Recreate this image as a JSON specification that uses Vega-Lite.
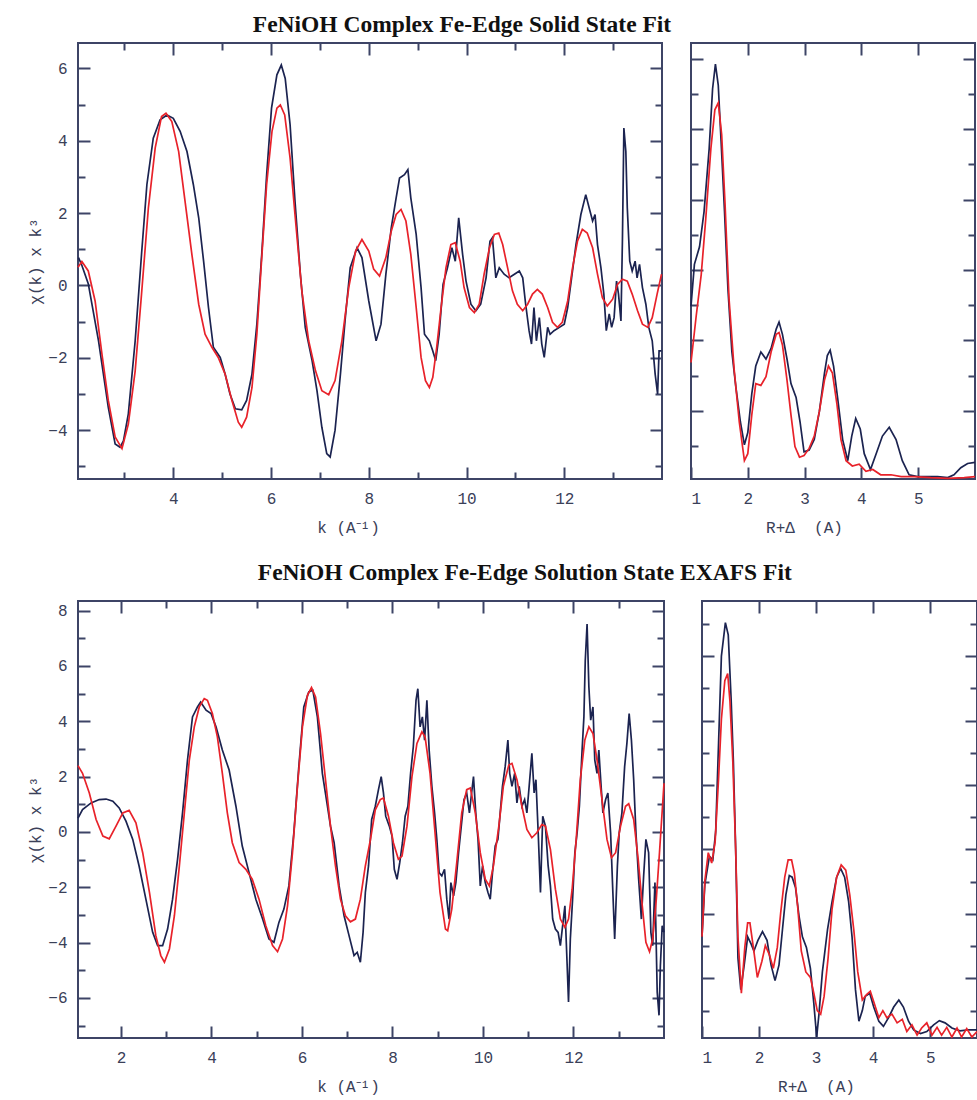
{
  "$schema": "https://vega.github.io/schema/vega-lite/v6.json",
  "background": "white",
  "padding": {"left": 26, "top": 12, "right": 0, "bottom": 0},
  "config": {
    "view": {"stroke": "#3d4466", "strokeWidth": 2},
    "axis": {"domain": false, "grid": false, "tickColor": "#3d4466", "tickWidth": 2, "labelFont": "Liberation Mono", "labelFontSize": 16, "labelColor": "#3a4058", "titleFont": "Liberation Mono", "titleFontSize": 16, "titleFontWeight": "normal", "titleColor": "#3a4058", "labelPadding": 23},
    "title": {"font": "Liberation Serif", "fontSize": 23.5, "fontWeight": "bold", "color": "#111111"}
  },
  "data": {"values": [
{"p":"ks","s":"d","x":2.06,"y":0.77},{"p":"ks","s":"d","x":2.13,"y":0.55},{"p":"ks","s":"d","x":2.26,"y":0.05},{"p":"ks","s":"d","x":2.47,"y":-1.53},{"p":"ks","s":"d","x":2.67,"y":-3.37},{"p":"ks","s":"d","x":2.81,"y":-4.38},{"p":"ks","s":"d","x":2.91,"y":-4.47},{"p":"ks","s":"d","x":2.98,"y":-4.3},{"p":"ks","s":"d","x":3.08,"y":-3.55},{"p":"ks","s":"d","x":3.22,"y":-1.53},{"p":"ks","s":"d","x":3.35,"y":0.86},{"p":"ks","s":"d","x":3.46,"y":2.79},{"p":"ks","s":"d","x":3.59,"y":4.07},{"p":"ks","s":"d","x":3.73,"y":4.58},{"p":"ks","s":"d","x":3.87,"y":4.71},{"p":"ks","s":"d","x":4.0,"y":4.62},{"p":"ks","s":"d","x":4.14,"y":4.26},{"p":"ks","s":"d","x":4.28,"y":3.7},{"p":"ks","s":"d","x":4.41,"y":2.79},{"p":"ks","s":"d","x":4.52,"y":1.87},{"p":"ks","s":"d","x":4.62,"y":0.67},{"p":"ks","s":"d","x":4.72,"y":-0.61},{"p":"ks","s":"d","x":4.82,"y":-1.71},{"p":"ks","s":"d","x":4.96,"y":-1.99},{"p":"ks","s":"d","x":5.06,"y":-2.45},{"p":"ks","s":"d","x":5.16,"y":-3.0},{"p":"ks","s":"d","x":5.27,"y":-3.41},{"p":"ks","s":"d","x":5.4,"y":-3.44},{"p":"ks","s":"d","x":5.5,"y":-3.18},{"p":"ks","s":"d","x":5.61,"y":-2.45},{"p":"ks","s":"d","x":5.71,"y":-1.07},{"p":"ks","s":"d","x":5.81,"y":0.86},{"p":"ks","s":"d","x":5.91,"y":3.06},{"p":"ks","s":"d","x":6.01,"y":4.9},{"p":"ks","s":"d","x":6.12,"y":5.82},{"p":"ks","s":"d","x":6.21,"y":6.09},{"p":"ks","s":"d","x":6.29,"y":5.72},{"p":"ks","s":"d","x":6.39,"y":4.44},{"p":"ks","s":"d","x":6.49,"y":2.33},{"p":"ks","s":"d","x":6.6,"y":0.31},{"p":"ks","s":"d","x":6.7,"y":-1.16},{"p":"ks","s":"d","x":6.84,"y":-2.08},{"p":"ks","s":"d","x":6.94,"y":-2.91},{"p":"ks","s":"d","x":7.04,"y":-3.92},{"p":"ks","s":"d","x":7.14,"y":-4.65},{"p":"ks","s":"d","x":7.21,"y":-4.74},{"p":"ks","s":"d","x":7.31,"y":-4.0},{"p":"ks","s":"d","x":7.42,"y":-2.45},{"p":"ks","s":"d","x":7.52,"y":-0.89},{"p":"ks","s":"d","x":7.62,"y":0.49},{"p":"ks","s":"d","x":7.76,"y":1.04},{"p":"ks","s":"d","x":7.86,"y":0.77},{"p":"ks","s":"d","x":8.0,"y":-0.43},{"p":"ks","s":"d","x":8.15,"y":-1.53},{"p":"ks","s":"d","x":8.25,"y":-1.07},{"p":"ks","s":"d","x":8.35,"y":0.31},{"p":"ks","s":"d","x":8.46,"y":1.59},{"p":"ks","s":"d","x":8.56,"y":2.42},{"p":"ks","s":"d","x":8.63,"y":2.97},{"p":"ks","s":"d","x":8.73,"y":3.06},{"p":"ks","s":"d","x":8.8,"y":3.2},{"p":"ks","s":"d","x":8.86,"y":2.42},{"p":"ks","s":"d","x":8.97,"y":1.41},{"p":"ks","s":"d","x":9.07,"y":-0.06},{"p":"ks","s":"d","x":9.14,"y":-1.35},{"p":"ks","s":"d","x":9.24,"y":-1.53},{"p":"ks","s":"d","x":9.31,"y":-1.81},{"p":"ks","s":"d","x":9.37,"y":-2.08},{"p":"ks","s":"d","x":9.44,"y":-1.35},{"p":"ks","s":"d","x":9.52,"y":0.03},{"p":"ks","s":"d","x":9.61,"y":0.49},{"p":"ks","s":"d","x":9.7,"y":1.04},{"p":"ks","s":"d","x":9.77,"y":0.67},{"p":"ks","s":"d","x":9.84,"y":1.87},{"p":"ks","s":"d","x":9.92,"y":0.86},{"p":"ks","s":"d","x":9.99,"y":0.12},{"p":"ks","s":"d","x":10.09,"y":-0.52},{"p":"ks","s":"d","x":10.19,"y":-0.7},{"p":"ks","s":"d","x":10.29,"y":-0.52},{"p":"ks","s":"d","x":10.4,"y":0.21},{"p":"ks","s":"d","x":10.48,"y":1.22},{"p":"ks","s":"d","x":10.53,"y":1.32},{"p":"ks","s":"d","x":10.6,"y":0.21},{"p":"ks","s":"d","x":10.67,"y":0.49},{"p":"ks","s":"d","x":10.77,"y":0.31},{"p":"ks","s":"d","x":10.87,"y":0.21},{"p":"ks","s":"d","x":10.98,"y":0.31},{"p":"ks","s":"d","x":11.08,"y":0.4},{"p":"ks","s":"d","x":11.15,"y":0.21},{"p":"ks","s":"d","x":11.21,"y":-0.52},{"p":"ks","s":"d","x":11.28,"y":-1.25},{"p":"ks","s":"d","x":11.33,"y":-1.62},{"p":"ks","s":"d","x":11.38,"y":-0.61},{"p":"ks","s":"d","x":11.43,"y":-1.53},{"p":"ks","s":"d","x":11.49,"y":-0.89},{"p":"ks","s":"d","x":11.54,"y":-1.62},{"p":"ks","s":"d","x":11.59,"y":-1.99},{"p":"ks","s":"d","x":11.66,"y":-1.16},{"p":"ks","s":"d","x":11.71,"y":-1.35},{"p":"ks","s":"d","x":11.79,"y":-1.25},{"p":"ks","s":"d","x":11.9,"y":-1.16},{"p":"ks","s":"d","x":12.0,"y":-1.07},{"p":"ks","s":"d","x":12.07,"y":-0.61},{"p":"ks","s":"d","x":12.15,"y":0.21},{"p":"ks","s":"d","x":12.24,"y":1.13},{"p":"ks","s":"d","x":12.34,"y":1.96},{"p":"ks","s":"d","x":12.44,"y":2.51},{"p":"ks","s":"d","x":12.51,"y":2.14},{"p":"ks","s":"d","x":12.58,"y":1.78},{"p":"ks","s":"d","x":12.63,"y":1.96},{"p":"ks","s":"d","x":12.68,"y":1.13},{"p":"ks","s":"d","x":12.75,"y":0.49},{"p":"ks","s":"d","x":12.81,"y":-0.24},{"p":"ks","s":"d","x":12.86,"y":-1.25},{"p":"ks","s":"d","x":12.92,"y":-0.79},{"p":"ks","s":"d","x":12.97,"y":-1.16},{"p":"ks","s":"d","x":13.02,"y":-0.89},{"p":"ks","s":"d","x":13.07,"y":0.12},{"p":"ks","s":"d","x":13.11,"y":-0.24},{"p":"ks","s":"d","x":13.16,"y":-0.98},{"p":"ks","s":"d","x":13.19,"y":1.22},{"p":"ks","s":"d","x":13.22,"y":4.35},{"p":"ks","s":"d","x":13.26,"y":3.7},{"p":"ks","s":"d","x":13.29,"y":2.14},{"p":"ks","s":"d","x":13.34,"y":0.67},{"p":"ks","s":"d","x":13.39,"y":0.4},{"p":"ks","s":"d","x":13.45,"y":0.67},{"p":"ks","s":"d","x":13.49,"y":0.21},{"p":"ks","s":"d","x":13.54,"y":0.58},{"p":"ks","s":"d","x":13.6,"y":-0.06},{"p":"ks","s":"d","x":13.67,"y":-0.52},{"p":"ks","s":"d","x":13.73,"y":-1.16},{"p":"ks","s":"d","x":13.8,"y":-1.53},{"p":"ks","s":"d","x":13.86,"y":-2.45},{"p":"ks","s":"d","x":13.91,"y":-3.0},{"p":"ks","s":"d","x":13.94,"y":-1.81},{"p":"ks","s":"d","x":13.99,"y":-1.81},
{"p":"ks","s":"f","x":2.05,"y":0.5},{"p":"ks","s":"f","x":2.13,"y":0.66},{"p":"ks","s":"f","x":2.26,"y":0.4},{"p":"ks","s":"f","x":2.4,"y":-0.43},{"p":"ks","s":"f","x":2.54,"y":-1.9},{"p":"ks","s":"f","x":2.67,"y":-3.18},{"p":"ks","s":"f","x":2.81,"y":-4.19},{"p":"ks","s":"f","x":2.95,"y":-4.51},{"p":"ks","s":"f","x":3.08,"y":-3.83},{"p":"ks","s":"f","x":3.22,"y":-2.36},{"p":"ks","s":"f","x":3.35,"y":-0.24},{"p":"ks","s":"f","x":3.49,"y":2.14},{"p":"ks","s":"f","x":3.63,"y":3.8},{"p":"ks","s":"f","x":3.76,"y":4.67},{"p":"ks","s":"f","x":3.85,"y":4.76},{"p":"ks","s":"f","x":3.97,"y":4.53},{"p":"ks","s":"f","x":4.11,"y":3.7},{"p":"ks","s":"f","x":4.24,"y":2.33},{"p":"ks","s":"f","x":4.38,"y":0.86},{"p":"ks","s":"f","x":4.52,"y":-0.52},{"p":"ks","s":"f","x":4.65,"y":-1.35},{"p":"ks","s":"f","x":4.79,"y":-1.71},{"p":"ks","s":"f","x":4.92,"y":-1.99},{"p":"ks","s":"f","x":5.06,"y":-2.45},{"p":"ks","s":"f","x":5.2,"y":-3.18},{"p":"ks","s":"f","x":5.33,"y":-3.78},{"p":"ks","s":"f","x":5.4,"y":-3.92},{"p":"ks","s":"f","x":5.5,"y":-3.64},{"p":"ks","s":"f","x":5.61,"y":-2.82},{"p":"ks","s":"f","x":5.71,"y":-1.35},{"p":"ks","s":"f","x":5.81,"y":0.77},{"p":"ks","s":"f","x":5.91,"y":2.79},{"p":"ks","s":"f","x":6.02,"y":4.26},{"p":"ks","s":"f","x":6.12,"y":4.9},{"p":"ks","s":"f","x":6.19,"y":4.99},{"p":"ks","s":"f","x":6.28,"y":4.71},{"p":"ks","s":"f","x":6.39,"y":3.52},{"p":"ks","s":"f","x":6.49,"y":1.96},{"p":"ks","s":"f","x":6.63,"y":-0.15},{"p":"ks","s":"f","x":6.77,"y":-1.53},{"p":"ks","s":"f","x":6.91,"y":-2.36},{"p":"ks","s":"f","x":7.04,"y":-2.91},{"p":"ks","s":"f","x":7.18,"y":-3.02},{"p":"ks","s":"f","x":7.31,"y":-2.63},{"p":"ks","s":"f","x":7.45,"y":-1.53},{"p":"ks","s":"f","x":7.59,"y":-0.06},{"p":"ks","s":"f","x":7.73,"y":0.95},{"p":"ks","s":"f","x":7.86,"y":1.27},{"p":"ks","s":"f","x":8.0,"y":0.95},{"p":"ks","s":"f","x":8.1,"y":0.45},{"p":"ks","s":"f","x":8.22,"y":0.26},{"p":"ks","s":"f","x":8.35,"y":0.77},{"p":"ks","s":"f","x":8.46,"y":1.5},{"p":"ks","s":"f","x":8.56,"y":1.96},{"p":"ks","s":"f","x":8.66,"y":2.1},{"p":"ks","s":"f","x":8.76,"y":1.78},{"p":"ks","s":"f","x":8.86,"y":0.86},{"p":"ks","s":"f","x":8.97,"y":-0.61},{"p":"ks","s":"f","x":9.07,"y":-1.99},{"p":"ks","s":"f","x":9.16,"y":-2.63},{"p":"ks","s":"f","x":9.24,"y":-2.82},{"p":"ks","s":"f","x":9.31,"y":-2.54},{"p":"ks","s":"f","x":9.39,"y":-1.71},{"p":"ks","s":"f","x":9.48,"y":-0.61},{"p":"ks","s":"f","x":9.58,"y":0.49},{"p":"ks","s":"f","x":9.68,"y":1.13},{"p":"ks","s":"f","x":9.77,"y":1.18},{"p":"ks","s":"f","x":9.87,"y":0.67},{"p":"ks","s":"f","x":9.95,"y":-0.06},{"p":"ks","s":"f","x":10.06,"y":-0.61},{"p":"ks","s":"f","x":10.16,"y":-0.75},{"p":"ks","s":"f","x":10.26,"y":-0.52},{"p":"ks","s":"f","x":10.36,"y":0.31},{"p":"ks","s":"f","x":10.47,"y":1.04},{"p":"ks","s":"f","x":10.57,"y":1.41},{"p":"ks","s":"f","x":10.66,"y":1.45},{"p":"ks","s":"f","x":10.74,"y":1.13},{"p":"ks","s":"f","x":10.84,"y":0.49},{"p":"ks","s":"f","x":10.94,"y":-0.15},{"p":"ks","s":"f","x":11.04,"y":-0.52},{"p":"ks","s":"f","x":11.15,"y":-0.7},{"p":"ks","s":"f","x":11.25,"y":-0.52},{"p":"ks","s":"f","x":11.35,"y":-0.24},{"p":"ks","s":"f","x":11.45,"y":-0.11},{"p":"ks","s":"f","x":11.55,"y":-0.24},{"p":"ks","s":"f","x":11.66,"y":-0.61},{"p":"ks","s":"f","x":11.76,"y":-1.02},{"p":"ks","s":"f","x":11.86,"y":-1.16},{"p":"ks","s":"f","x":11.96,"y":-1.02},{"p":"ks","s":"f","x":12.07,"y":-0.43},{"p":"ks","s":"f","x":12.17,"y":0.49},{"p":"ks","s":"f","x":12.27,"y":1.22},{"p":"ks","s":"f","x":12.37,"y":1.55},{"p":"ks","s":"f","x":12.47,"y":1.45},{"p":"ks","s":"f","x":12.58,"y":1.04},{"p":"ks","s":"f","x":12.68,"y":0.31},{"p":"ks","s":"f","x":12.78,"y":-0.34},{"p":"ks","s":"f","x":12.88,"y":-0.57},{"p":"ks","s":"f","x":12.99,"y":-0.38},{"p":"ks","s":"f","x":13.09,"y":0.03},{"p":"ks","s":"f","x":13.19,"y":0.17},{"p":"ks","s":"f","x":13.29,"y":0.12},{"p":"ks","s":"f","x":13.39,"y":-0.24},{"p":"ks","s":"f","x":13.5,"y":-0.7},{"p":"ks","s":"f","x":13.6,"y":-1.07},{"p":"ks","s":"f","x":13.71,"y":-1.16},{"p":"ks","s":"f","x":13.8,"y":-0.89},{"p":"ks","s":"f","x":13.9,"y":-0.24},{"p":"ks","s":"f","x":13.99,"y":0.31},
{"p":"rs","s":"d","x":1.0,"y":4.97},{"p":"rs","s":"d","x":1.06,"y":6.16},{"p":"rs","s":"d","x":1.15,"y":6.66},{"p":"rs","s":"d","x":1.23,"y":7.66},{"p":"rs","s":"d","x":1.32,"y":9.45},{"p":"rs","s":"d","x":1.38,"y":11.15},{"p":"rs","s":"d","x":1.43,"y":11.85},{"p":"rs","s":"d","x":1.48,"y":11.25},{"p":"rs","s":"d","x":1.53,"y":9.65},{"p":"rs","s":"d","x":1.59,"y":7.66},{"p":"rs","s":"d","x":1.65,"y":5.47},{"p":"rs","s":"d","x":1.72,"y":3.67},{"p":"rs","s":"d","x":1.79,"y":2.67},{"p":"rs","s":"d","x":1.87,"y":1.68},{"p":"rs","s":"d","x":1.94,"y":1.03},{"p":"rs","s":"d","x":2.0,"y":1.38},{"p":"rs","s":"d","x":2.07,"y":2.48},{"p":"rs","s":"d","x":2.14,"y":3.27},{"p":"rs","s":"d","x":2.23,"y":3.67},{"p":"rs","s":"d","x":2.32,"y":3.47},{"p":"rs","s":"d","x":2.41,"y":3.77},{"p":"rs","s":"d","x":2.5,"y":4.32},{"p":"rs","s":"d","x":2.55,"y":4.52},{"p":"rs","s":"d","x":2.61,"y":4.17},{"p":"rs","s":"d","x":2.69,"y":3.47},{"p":"rs","s":"d","x":2.76,"y":2.77},{"p":"rs","s":"d","x":2.85,"y":2.38},{"p":"rs","s":"d","x":2.92,"y":1.68},{"p":"rs","s":"d","x":2.99,"y":0.83},{"p":"rs","s":"d","x":3.08,"y":0.88},{"p":"rs","s":"d","x":3.17,"y":1.18},{"p":"rs","s":"d","x":3.26,"y":1.98},{"p":"rs","s":"d","x":3.35,"y":3.07},{"p":"rs","s":"d","x":3.4,"y":3.57},{"p":"rs","s":"d","x":3.45,"y":3.72},{"p":"rs","s":"d","x":3.51,"y":3.27},{"p":"rs","s":"d","x":3.58,"y":2.38},{"p":"rs","s":"d","x":3.67,"y":1.18},{"p":"rs","s":"d","x":3.76,"y":0.58},{"p":"rs","s":"d","x":3.83,"y":1.28},{"p":"rs","s":"d","x":3.9,"y":1.78},{"p":"rs","s":"d","x":3.98,"y":1.48},{"p":"rs","s":"d","x":4.05,"y":0.78},{"p":"rs","s":"d","x":4.16,"y":0.33},{"p":"rs","s":"d","x":4.26,"y":0.78},{"p":"rs","s":"d","x":4.37,"y":1.28},{"p":"rs","s":"d","x":4.49,"y":1.53},{"p":"rs","s":"d","x":4.61,"y":1.18},{"p":"rs","s":"d","x":4.72,"y":0.58},{"p":"rs","s":"d","x":4.84,"y":0.18},{"p":"rs","s":"d","x":4.99,"y":0.13},{"p":"rs","s":"d","x":5.16,"y":0.13},{"p":"rs","s":"d","x":5.34,"y":0.13},{"p":"rs","s":"d","x":5.52,"y":0.1},{"p":"rs","s":"d","x":5.63,"y":0.18},{"p":"rs","s":"d","x":5.75,"y":0.38},{"p":"rs","s":"d","x":5.87,"y":0.5},{"p":"rs","s":"d","x":6.0,"y":0.53},
{"p":"rs","s":"f","x":1.0,"y":3.37},{"p":"rs","s":"f","x":1.09,"y":4.67},{"p":"rs","s":"f","x":1.18,"y":5.87},{"p":"rs","s":"f","x":1.26,"y":7.46},{"p":"rs","s":"f","x":1.35,"y":9.45},{"p":"rs","s":"f","x":1.42,"y":10.55},{"p":"rs","s":"f","x":1.48,"y":10.75},{"p":"rs","s":"f","x":1.54,"y":9.85},{"p":"rs","s":"f","x":1.6,"y":7.86},{"p":"rs","s":"f","x":1.67,"y":5.17},{"p":"rs","s":"f","x":1.76,"y":3.17},{"p":"rs","s":"f","x":1.85,"y":1.68},{"p":"rs","s":"f","x":1.94,"y":0.58},{"p":"rs","s":"f","x":2.0,"y":0.78},{"p":"rs","s":"f","x":2.07,"y":1.88},{"p":"rs","s":"f","x":2.14,"y":2.77},{"p":"rs","s":"f","x":2.23,"y":2.72},{"p":"rs","s":"f","x":2.32,"y":2.97},{"p":"rs","s":"f","x":2.41,"y":3.67},{"p":"rs","s":"f","x":2.5,"y":4.17},{"p":"rs","s":"f","x":2.55,"y":4.22},{"p":"rs","s":"f","x":2.61,"y":3.87},{"p":"rs","s":"f","x":2.69,"y":2.87},{"p":"rs","s":"f","x":2.76,"y":1.88},{"p":"rs","s":"f","x":2.83,"y":0.98},{"p":"rs","s":"f","x":2.91,"y":0.68},{"p":"rs","s":"f","x":2.99,"y":0.73},{"p":"rs","s":"f","x":3.08,"y":0.93},{"p":"rs","s":"f","x":3.17,"y":1.28},{"p":"rs","s":"f","x":3.26,"y":1.98},{"p":"rs","s":"f","x":3.35,"y":2.87},{"p":"rs","s":"f","x":3.42,"y":3.27},{"p":"rs","s":"f","x":3.49,"y":3.07},{"p":"rs","s":"f","x":3.57,"y":2.18},{"p":"rs","s":"f","x":3.64,"y":1.18},{"p":"rs","s":"f","x":3.73,"y":0.58},{"p":"rs","s":"f","x":3.84,"y":0.43},{"p":"rs","s":"f","x":3.96,"y":0.48},{"p":"rs","s":"f","x":4.08,"y":0.28},{"p":"rs","s":"f","x":4.2,"y":0.33},{"p":"rs","s":"f","x":4.34,"y":0.18},{"p":"rs","s":"f","x":4.52,"y":0.18},{"p":"rs","s":"f","x":4.7,"y":0.13},{"p":"rs","s":"f","x":4.93,"y":0.13},{"p":"rs","s":"f","x":5.22,"y":0.1},{"p":"rs","s":"f","x":5.52,"y":0.08},{"p":"rs","s":"f","x":5.81,"y":0.1},{"p":"rs","s":"f","x":6.0,"y":0.13},
{"p":"kl","s":"d","x":1.05,"y":0.5},{"p":"kl","s":"d","x":1.15,"y":0.81},{"p":"kl","s":"d","x":1.34,"y":1.05},{"p":"kl","s":"d","x":1.52,"y":1.17},{"p":"kl","s":"d","x":1.67,"y":1.19},{"p":"kl","s":"d","x":1.82,"y":1.11},{"p":"kl","s":"d","x":1.96,"y":0.87},{"p":"kl","s":"d","x":2.11,"y":0.39},{"p":"kl","s":"d","x":2.26,"y":-0.27},{"p":"kl","s":"d","x":2.4,"y":-1.23},{"p":"kl","s":"d","x":2.55,"y":-2.43},{"p":"kl","s":"d","x":2.7,"y":-3.63},{"p":"kl","s":"d","x":2.81,"y":-4.11},{"p":"kl","s":"d","x":2.92,"y":-4.11},{"p":"kl","s":"d","x":3.03,"y":-3.51},{"p":"kl","s":"d","x":3.14,"y":-2.43},{"p":"kl","s":"d","x":3.25,"y":-0.99},{"p":"kl","s":"d","x":3.36,"y":0.69},{"p":"kl","s":"d","x":3.47,"y":2.6},{"p":"kl","s":"d","x":3.58,"y":4.16},{"p":"kl","s":"d","x":3.69,"y":4.52},{"p":"kl","s":"d","x":3.76,"y":4.7},{"p":"kl","s":"d","x":3.88,"y":4.4},{"p":"kl","s":"d","x":3.99,"y":4.28},{"p":"kl","s":"d","x":4.1,"y":3.8},{"p":"kl","s":"d","x":4.24,"y":2.96},{"p":"kl","s":"d","x":4.39,"y":2.24},{"p":"kl","s":"d","x":4.54,"y":0.93},{"p":"kl","s":"d","x":4.68,"y":-0.51},{"p":"kl","s":"d","x":4.83,"y":-1.47},{"p":"kl","s":"d","x":4.98,"y":-2.43},{"p":"kl","s":"d","x":5.13,"y":-3.15},{"p":"kl","s":"d","x":5.27,"y":-3.87},{"p":"kl","s":"d","x":5.38,"y":-3.99},{"p":"kl","s":"d","x":5.49,"y":-3.27},{"p":"kl","s":"d","x":5.6,"y":-2.79},{"p":"kl","s":"d","x":5.71,"y":-1.95},{"p":"kl","s":"d","x":5.82,"y":-0.03},{"p":"kl","s":"d","x":5.93,"y":2.36},{"p":"kl","s":"d","x":6.04,"y":4.52},{"p":"kl","s":"d","x":6.15,"y":5.06},{"p":"kl","s":"d","x":6.24,"y":5.12},{"p":"kl","s":"d","x":6.34,"y":4.16},{"p":"kl","s":"d","x":6.45,"y":2.12},{"p":"kl","s":"d","x":6.54,"y":1.17},{"p":"kl","s":"d","x":6.63,"y":0.21},{"p":"kl","s":"d","x":6.71,"y":-0.39},{"p":"kl","s":"d","x":6.82,"y":-1.95},{"p":"kl","s":"d","x":6.93,"y":-3.03},{"p":"kl","s":"d","x":7.04,"y":-3.75},{"p":"kl","s":"d","x":7.15,"y":-4.47},{"p":"kl","s":"d","x":7.22,"y":-4.35},{"p":"kl","s":"d","x":7.29,"y":-4.71},{"p":"kl","s":"d","x":7.35,"y":-3.63},{"p":"kl","s":"d","x":7.4,"y":-2.19},{"p":"kl","s":"d","x":7.47,"y":-1.23},{"p":"kl","s":"d","x":7.54,"y":0.45},{"p":"kl","s":"d","x":7.62,"y":0.93},{"p":"kl","s":"d","x":7.69,"y":1.53},{"p":"kl","s":"d","x":7.75,"y":2.0},{"p":"kl","s":"d","x":7.8,"y":1.41},{"p":"kl","s":"d","x":7.85,"y":0.57},{"p":"kl","s":"d","x":7.93,"y":0.21},{"p":"kl","s":"d","x":7.99,"y":-0.15},{"p":"kl","s":"d","x":8.04,"y":-1.35},{"p":"kl","s":"d","x":8.1,"y":-1.71},{"p":"kl","s":"d","x":8.16,"y":-1.11},{"p":"kl","s":"d","x":8.22,"y":-0.39},{"p":"kl","s":"d","x":8.28,"y":0.57},{"p":"kl","s":"d","x":8.34,"y":0.93},{"p":"kl","s":"d","x":8.4,"y":2.12},{"p":"kl","s":"d","x":8.46,"y":3.08},{"p":"kl","s":"d","x":8.52,"y":4.76},{"p":"kl","s":"d","x":8.56,"y":5.18},{"p":"kl","s":"d","x":8.61,"y":3.8},{"p":"kl","s":"d","x":8.66,"y":4.16},{"p":"kl","s":"d","x":8.71,"y":3.32},{"p":"kl","s":"d","x":8.76,"y":4.76},{"p":"kl","s":"d","x":8.81,"y":2.96},{"p":"kl","s":"d","x":8.87,"y":1.65},{"p":"kl","s":"d","x":8.93,"y":0.69},{"p":"kl","s":"d","x":8.98,"y":-0.27},{"p":"kl","s":"d","x":9.03,"y":-1.47},{"p":"kl","s":"d","x":9.09,"y":-1.59},{"p":"kl","s":"d","x":9.15,"y":-1.35},{"p":"kl","s":"d","x":9.2,"y":-2.43},{"p":"kl","s":"d","x":9.25,"y":-3.15},{"p":"kl","s":"d","x":9.29,"y":-1.83},{"p":"kl","s":"d","x":9.35,"y":-2.31},{"p":"kl","s":"d","x":9.4,"y":-1.83},{"p":"kl","s":"d","x":9.46,"y":-0.75},{"p":"kl","s":"d","x":9.52,"y":0.21},{"p":"kl","s":"d","x":9.58,"y":1.17},{"p":"kl","s":"d","x":9.64,"y":1.41},{"p":"kl","s":"d","x":9.7,"y":0.69},{"p":"kl","s":"d","x":9.74,"y":1.29},{"p":"kl","s":"d","x":9.79,"y":2.0},{"p":"kl","s":"d","x":9.84,"y":0.69},{"p":"kl","s":"d","x":9.89,"y":-0.27},{"p":"kl","s":"d","x":9.94,"y":-1.95},{"p":"kl","s":"d","x":9.99,"y":-1.23},{"p":"kl","s":"d","x":10.05,"y":-1.83},{"p":"kl","s":"d","x":10.11,"y":-2.19},{"p":"kl","s":"d","x":10.16,"y":-2.43},{"p":"kl","s":"d","x":10.21,"y":-1.47},{"p":"kl","s":"d","x":10.27,"y":-0.51},{"p":"kl","s":"d","x":10.33,"y":-0.27},{"p":"kl","s":"d","x":10.38,"y":0.69},{"p":"kl","s":"d","x":10.43,"y":1.65},{"p":"kl","s":"d","x":10.49,"y":2.36},{"p":"kl","s":"d","x":10.55,"y":3.32},{"p":"kl","s":"d","x":10.59,"y":2.12},{"p":"kl","s":"d","x":10.64,"y":1.65},{"p":"kl","s":"d","x":10.7,"y":2.12},{"p":"kl","s":"d","x":10.75,"y":1.05},{"p":"kl","s":"d","x":10.8,"y":1.65},{"p":"kl","s":"d","x":10.86,"y":0.93},{"p":"kl","s":"d","x":10.92,"y":1.17},{"p":"kl","s":"d","x":10.97,"y":0.69},{"p":"kl","s":"d","x":11.02,"y":1.65},{"p":"kl","s":"d","x":11.08,"y":2.84},{"p":"kl","s":"d","x":11.13,"y":1.41},{"p":"kl","s":"d","x":11.17,"y":1.89},{"p":"kl","s":"d","x":11.22,"y":-0.03},{"p":"kl","s":"d","x":11.27,"y":-2.19},{"p":"kl","s":"d","x":11.32,"y":0.57},{"p":"kl","s":"d","x":11.38,"y":0.21},{"p":"kl","s":"d","x":11.44,"y":-1.23},{"p":"kl","s":"d","x":11.49,"y":-1.95},{"p":"kl","s":"d","x":11.54,"y":-3.15},{"p":"kl","s":"d","x":11.6,"y":-3.51},{"p":"kl","s":"d","x":11.66,"y":-3.63},{"p":"kl","s":"d","x":11.71,"y":-4.11},{"p":"kl","s":"d","x":11.76,"y":-3.39},{"p":"kl","s":"d","x":11.81,"y":-2.67},{"p":"kl","s":"d","x":11.86,"y":-4.83},{"p":"kl","s":"d","x":11.89,"y":-6.15},{"p":"kl","s":"d","x":11.93,"y":-3.87},{"p":"kl","s":"d","x":11.98,"y":-2.43},{"p":"kl","s":"d","x":12.03,"y":-0.75},{"p":"kl","s":"d","x":12.08,"y":-0.03},{"p":"kl","s":"d","x":12.13,"y":0.93},{"p":"kl","s":"d","x":12.19,"y":2.96},{"p":"kl","s":"d","x":12.23,"y":4.16},{"p":"kl","s":"d","x":12.26,"y":6.2},{"p":"kl","s":"d","x":12.3,"y":7.52},{"p":"kl","s":"d","x":12.34,"y":5.24},{"p":"kl","s":"d","x":12.38,"y":4.04},{"p":"kl","s":"d","x":12.43,"y":4.52},{"p":"kl","s":"d","x":12.47,"y":2.6},{"p":"kl","s":"d","x":12.52,"y":2.12},{"p":"kl","s":"d","x":12.56,"y":2.96},{"p":"kl","s":"d","x":12.61,"y":1.65},{"p":"kl","s":"d","x":12.65,"y":0.69},{"p":"kl","s":"d","x":12.71,"y":1.17},{"p":"kl","s":"d","x":12.76,"y":1.41},{"p":"kl","s":"d","x":12.82,"y":-0.03},{"p":"kl","s":"d","x":12.87,"y":-2.19},{"p":"kl","s":"d","x":12.91,"y":-3.87},{"p":"kl","s":"d","x":12.97,"y":-1.23},{"p":"kl","s":"d","x":13.01,"y":-0.03},{"p":"kl","s":"d","x":13.07,"y":0.69},{"p":"kl","s":"d","x":13.13,"y":2.36},{"p":"kl","s":"d","x":13.18,"y":3.2},{"p":"kl","s":"d","x":13.23,"y":4.28},{"p":"kl","s":"d","x":13.28,"y":3.32},{"p":"kl","s":"d","x":13.33,"y":1.89},{"p":"kl","s":"d","x":13.38,"y":-0.03},{"p":"kl","s":"d","x":13.44,"y":-1.71},{"p":"kl","s":"d","x":13.5,"y":-3.15},{"p":"kl","s":"d","x":13.55,"y":-1.59},{"p":"kl","s":"d","x":13.6,"y":-0.27},{"p":"kl","s":"d","x":13.66,"y":-0.75},{"p":"kl","s":"d","x":13.71,"y":-3.63},{"p":"kl","s":"d","x":13.75,"y":-4.11},{"p":"kl","s":"d","x":13.8,"y":-1.83},{"p":"kl","s":"d","x":13.85,"y":-5.79},{"p":"kl","s":"d","x":13.89,"y":-6.63},{"p":"kl","s":"d","x":13.92,"y":-4.83},{"p":"kl","s":"d","x":13.96,"y":-3.39},{"p":"kl","s":"d","x":14.0,"y":-3.63},
{"p":"kl","s":"f","x":1.05,"y":2.4},{"p":"kl","s":"f","x":1.15,"y":2.12},{"p":"kl","s":"f","x":1.3,"y":1.41},{"p":"kl","s":"f","x":1.45,"y":0.45},{"p":"kl","s":"f","x":1.6,"y":-0.15},{"p":"kl","s":"f","x":1.74,"y":-0.25},{"p":"kl","s":"f","x":1.89,"y":0.21},{"p":"kl","s":"f","x":2.04,"y":0.69},{"p":"kl","s":"f","x":2.18,"y":0.78},{"p":"kl","s":"f","x":2.33,"y":0.33},{"p":"kl","s":"f","x":2.48,"y":-0.75},{"p":"kl","s":"f","x":2.63,"y":-2.19},{"p":"kl","s":"f","x":2.77,"y":-3.75},{"p":"kl","s":"f","x":2.88,"y":-4.47},{"p":"kl","s":"f","x":2.96,"y":-4.71},{"p":"kl","s":"f","x":3.07,"y":-4.23},{"p":"kl","s":"f","x":3.18,"y":-3.03},{"p":"kl","s":"f","x":3.29,"y":-1.23},{"p":"kl","s":"f","x":3.4,"y":0.69},{"p":"kl","s":"f","x":3.51,"y":2.6},{"p":"kl","s":"f","x":3.62,"y":3.8},{"p":"kl","s":"f","x":3.73,"y":4.52},{"p":"kl","s":"f","x":3.84,"y":4.82},{"p":"kl","s":"f","x":3.91,"y":4.76},{"p":"kl","s":"f","x":4.02,"y":4.28},{"p":"kl","s":"f","x":4.13,"y":3.44},{"p":"kl","s":"f","x":4.24,"y":2.12},{"p":"kl","s":"f","x":4.35,"y":0.69},{"p":"kl","s":"f","x":4.46,"y":-0.39},{"p":"kl","s":"f","x":4.61,"y":-1.11},{"p":"kl","s":"f","x":4.76,"y":-1.35},{"p":"kl","s":"f","x":4.9,"y":-1.71},{"p":"kl","s":"f","x":5.05,"y":-2.43},{"p":"kl","s":"f","x":5.2,"y":-3.39},{"p":"kl","s":"f","x":5.35,"y":-4.11},{"p":"kl","s":"f","x":5.46,"y":-4.33},{"p":"kl","s":"f","x":5.57,"y":-3.87},{"p":"kl","s":"f","x":5.68,"y":-2.67},{"p":"kl","s":"f","x":5.79,"y":-0.75},{"p":"kl","s":"f","x":5.9,"y":1.65},{"p":"kl","s":"f","x":6.01,"y":3.8},{"p":"kl","s":"f","x":6.12,"y":4.94},{"p":"kl","s":"f","x":6.21,"y":5.22},{"p":"kl","s":"f","x":6.3,"y":4.88},{"p":"kl","s":"f","x":6.41,"y":3.56},{"p":"kl","s":"f","x":6.52,"y":1.88},{"p":"kl","s":"f","x":6.63,"y":0.21},{"p":"kl","s":"f","x":6.74,"y":-1.23},{"p":"kl","s":"f","x":6.85,"y":-2.43},{"p":"kl","s":"f","x":6.96,"y":-3.03},{"p":"kl","s":"f","x":7.07,"y":-3.25},{"p":"kl","s":"f","x":7.18,"y":-3.15},{"p":"kl","s":"f","x":7.29,"y":-2.43},{"p":"kl","s":"f","x":7.4,"y":-1.23},{"p":"kl","s":"f","x":7.51,"y":-0.3},{"p":"kl","s":"f","x":7.62,"y":0.8},{"p":"kl","s":"f","x":7.73,"y":1.17},{"p":"kl","s":"f","x":7.8,"y":1.23},{"p":"kl","s":"f","x":7.91,"y":0.57},{"p":"kl","s":"f","x":8.02,"y":-0.39},{"p":"kl","s":"f","x":8.13,"y":-0.99},{"p":"kl","s":"f","x":8.21,"y":-0.87},{"p":"kl","s":"f","x":8.32,"y":0.21},{"p":"kl","s":"f","x":8.43,"y":2.0},{"p":"kl","s":"f","x":8.54,"y":3.2},{"p":"kl","s":"f","x":8.65,"y":3.62},{"p":"kl","s":"f","x":8.72,"y":3.44},{"p":"kl","s":"f","x":8.83,"y":2.12},{"p":"kl","s":"f","x":8.94,"y":-0.03},{"p":"kl","s":"f","x":9.05,"y":-2.19},{"p":"kl","s":"f","x":9.17,"y":-3.51},{"p":"kl","s":"f","x":9.22,"y":-3.57},{"p":"kl","s":"f","x":9.31,"y":-2.79},{"p":"kl","s":"f","x":9.42,"y":-1.11},{"p":"kl","s":"f","x":9.53,"y":0.69},{"p":"kl","s":"f","x":9.64,"y":1.53},{"p":"kl","s":"f","x":9.72,"y":1.59},{"p":"kl","s":"f","x":9.83,"y":0.69},{"p":"kl","s":"f","x":9.94,"y":-0.75},{"p":"kl","s":"f","x":10.05,"y":-1.71},{"p":"kl","s":"f","x":10.14,"y":-1.95},{"p":"kl","s":"f","x":10.23,"y":-1.23},{"p":"kl","s":"f","x":10.35,"y":0.21},{"p":"kl","s":"f","x":10.45,"y":1.65},{"p":"kl","s":"f","x":10.57,"y":2.42},{"p":"kl","s":"f","x":10.64,"y":2.48},{"p":"kl","s":"f","x":10.75,"y":1.89},{"p":"kl","s":"f","x":10.86,"y":0.93},{"p":"kl","s":"f","x":10.97,"y":0.09},{"p":"kl","s":"f","x":11.08,"y":-0.21},{"p":"kl","s":"f","x":11.19,"y":-0.03},{"p":"kl","s":"f","x":11.3,"y":0.27},{"p":"kl","s":"f","x":11.38,"y":0.21},{"p":"kl","s":"f","x":11.49,"y":-0.63},{"p":"kl","s":"f","x":11.6,"y":-2.07},{"p":"kl","s":"f","x":11.71,"y":-3.15},{"p":"kl","s":"f","x":11.81,"y":-3.45},{"p":"kl","s":"f","x":11.89,"y":-3.15},{"p":"kl","s":"f","x":11.97,"y":-2.07},{"p":"kl","s":"f","x":12.06,"y":-0.27},{"p":"kl","s":"f","x":12.15,"y":1.89},{"p":"kl","s":"f","x":12.25,"y":3.32},{"p":"kl","s":"f","x":12.34,"y":3.8},{"p":"kl","s":"f","x":12.43,"y":3.56},{"p":"kl","s":"f","x":12.52,"y":2.6},{"p":"kl","s":"f","x":12.63,"y":1.17},{"p":"kl","s":"f","x":12.74,"y":-0.27},{"p":"kl","s":"f","x":12.84,"y":-0.93},{"p":"kl","s":"f","x":12.93,"y":-0.75},{"p":"kl","s":"f","x":13.04,"y":0.21},{"p":"kl","s":"f","x":13.15,"y":0.93},{"p":"kl","s":"f","x":13.22,"y":1.02},{"p":"kl","s":"f","x":13.33,"y":0.45},{"p":"kl","s":"f","x":13.43,"y":-0.99},{"p":"kl","s":"f","x":13.52,"y":-2.67},{"p":"kl","s":"f","x":13.6,"y":-3.99},{"p":"kl","s":"f","x":13.68,"y":-4.33},{"p":"kl","s":"f","x":13.75,"y":-3.87},{"p":"kl","s":"f","x":13.83,"y":-2.43},{"p":"kl","s":"f","x":13.9,"y":-0.75},{"p":"kl","s":"f","x":14.0,"y":1.76},
{"p":"rl","s":"d","x":1.0,"y":3.29},{"p":"rl","s":"d","x":1.05,"y":4.92},{"p":"rl","s":"d","x":1.13,"y":5.79},{"p":"rl","s":"d","x":1.19,"y":5.68},{"p":"rl","s":"d","x":1.24,"y":6.56},{"p":"rl","s":"d","x":1.29,"y":9.28},{"p":"rl","s":"d","x":1.34,"y":12.0},{"p":"rl","s":"d","x":1.41,"y":13.04},{"p":"rl","s":"d","x":1.46,"y":12.66},{"p":"rl","s":"d","x":1.51,"y":10.69},{"p":"rl","s":"d","x":1.55,"y":8.73},{"p":"rl","s":"d","x":1.59,"y":6.01},{"p":"rl","s":"d","x":1.63,"y":2.63},{"p":"rl","s":"d","x":1.68,"y":1.65},{"p":"rl","s":"d","x":1.74,"y":2.42},{"p":"rl","s":"d","x":1.8,"y":3.29},{"p":"rl","s":"d","x":1.86,"y":3.07},{"p":"rl","s":"d","x":1.91,"y":2.85},{"p":"rl","s":"d","x":1.98,"y":3.18},{"p":"rl","s":"d","x":2.06,"y":3.45},{"p":"rl","s":"d","x":2.14,"y":3.18},{"p":"rl","s":"d","x":2.21,"y":2.42},{"p":"rl","s":"d","x":2.28,"y":1.93},{"p":"rl","s":"d","x":2.35,"y":2.42},{"p":"rl","s":"d","x":2.41,"y":3.51},{"p":"rl","s":"d","x":2.47,"y":4.59},{"p":"rl","s":"d","x":2.53,"y":5.19},{"p":"rl","s":"d","x":2.58,"y":5.14},{"p":"rl","s":"d","x":2.64,"y":4.81},{"p":"rl","s":"d","x":2.7,"y":3.94},{"p":"rl","s":"d","x":2.76,"y":3.29},{"p":"rl","s":"d","x":2.83,"y":2.96},{"p":"rl","s":"d","x":2.9,"y":2.31},{"p":"rl","s":"d","x":2.96,"y":1.22},{"p":"rl","s":"d","x":3.01,"y":0.18},{"p":"rl","s":"d","x":3.05,"y":0.89},{"p":"rl","s":"d","x":3.11,"y":2.2},{"p":"rl","s":"d","x":3.2,"y":3.51},{"p":"rl","s":"d","x":3.28,"y":4.38},{"p":"rl","s":"d","x":3.36,"y":5.14},{"p":"rl","s":"d","x":3.43,"y":5.41},{"p":"rl","s":"d","x":3.5,"y":5.14},{"p":"rl","s":"d","x":3.57,"y":4.38},{"p":"rl","s":"d","x":3.63,"y":3.29},{"p":"rl","s":"d","x":3.69,"y":1.65},{"p":"rl","s":"d","x":3.75,"y":0.67},{"p":"rl","s":"d","x":3.81,"y":1.0},{"p":"rl","s":"d","x":3.86,"y":1.44},{"p":"rl","s":"d","x":3.94,"y":1.54},{"p":"rl","s":"d","x":4.01,"y":1.11},{"p":"rl","s":"d","x":4.1,"y":0.67},{"p":"rl","s":"d","x":4.18,"y":0.51},{"p":"rl","s":"d","x":4.27,"y":0.78},{"p":"rl","s":"d","x":4.36,"y":1.11},{"p":"rl","s":"d","x":4.45,"y":1.33},{"p":"rl","s":"d","x":4.53,"y":1.11},{"p":"rl","s":"d","x":4.62,"y":0.67},{"p":"rl","s":"d","x":4.71,"y":0.4},{"p":"rl","s":"d","x":4.83,"y":0.29},{"p":"rl","s":"d","x":4.94,"y":0.35},{"p":"rl","s":"d","x":5.06,"y":0.56},{"p":"rl","s":"d","x":5.16,"y":0.69},{"p":"rl","s":"d","x":5.26,"y":0.62},{"p":"rl","s":"d","x":5.38,"y":0.46},{"p":"rl","s":"d","x":5.52,"y":0.37},{"p":"rl","s":"d","x":5.67,"y":0.4},{"p":"rl","s":"d","x":5.82,"y":0.4},
{"p":"rl","s":"f","x":1.0,"y":3.29},{"p":"rl","s":"f","x":1.05,"y":5.03},{"p":"rl","s":"f","x":1.11,"y":5.9},{"p":"rl","s":"f","x":1.17,"y":5.58},{"p":"rl","s":"f","x":1.23,"y":6.23},{"p":"rl","s":"f","x":1.29,"y":8.19},{"p":"rl","s":"f","x":1.34,"y":10.04},{"p":"rl","s":"f","x":1.4,"y":11.24},{"p":"rl","s":"f","x":1.45,"y":11.46},{"p":"rl","s":"f","x":1.49,"y":10.59},{"p":"rl","s":"f","x":1.54,"y":8.73},{"p":"rl","s":"f","x":1.59,"y":6.01},{"p":"rl","s":"f","x":1.63,"y":3.29},{"p":"rl","s":"f","x":1.69,"y":1.54},{"p":"rl","s":"f","x":1.75,"y":2.96},{"p":"rl","s":"f","x":1.8,"y":3.72},{"p":"rl","s":"f","x":1.84,"y":3.72},{"p":"rl","s":"f","x":1.9,"y":2.96},{"p":"rl","s":"f","x":1.97,"y":2.03},{"p":"rl","s":"f","x":2.05,"y":2.53},{"p":"rl","s":"f","x":2.11,"y":3.02},{"p":"rl","s":"f","x":2.18,"y":2.74},{"p":"rl","s":"f","x":2.25,"y":2.31},{"p":"rl","s":"f","x":2.32,"y":2.96},{"p":"rl","s":"f","x":2.38,"y":4.05},{"p":"rl","s":"f","x":2.45,"y":5.14},{"p":"rl","s":"f","x":2.51,"y":5.68},{"p":"rl","s":"f","x":2.57,"y":5.68},{"p":"rl","s":"f","x":2.62,"y":5.25},{"p":"rl","s":"f","x":2.68,"y":4.16},{"p":"rl","s":"f","x":2.74,"y":2.85},{"p":"rl","s":"f","x":2.82,"y":2.2},{"p":"rl","s":"f","x":2.9,"y":2.03},{"p":"rl","s":"f","x":2.96,"y":1.54},{"p":"rl","s":"f","x":3.02,"y":1.0},{"p":"rl","s":"f","x":3.08,"y":0.89},{"p":"rl","s":"f","x":3.14,"y":1.44},{"p":"rl","s":"f","x":3.21,"y":2.63},{"p":"rl","s":"f","x":3.28,"y":4.16},{"p":"rl","s":"f","x":3.36,"y":5.14},{"p":"rl","s":"f","x":3.44,"y":5.52},{"p":"rl","s":"f","x":3.52,"y":5.36},{"p":"rl","s":"f","x":3.59,"y":4.59},{"p":"rl","s":"f","x":3.66,"y":3.51},{"p":"rl","s":"f","x":3.73,"y":2.2},{"p":"rl","s":"f","x":3.81,"y":1.33},{"p":"rl","s":"f","x":3.88,"y":1.49},{"p":"rl","s":"f","x":3.95,"y":1.6},{"p":"rl","s":"f","x":4.02,"y":1.22},{"p":"rl","s":"f","x":4.1,"y":0.78},{"p":"rl","s":"f","x":4.17,"y":1.0},{"p":"rl","s":"f","x":4.24,"y":0.78},{"p":"rl","s":"f","x":4.33,"y":0.89},{"p":"rl","s":"f","x":4.42,"y":0.62},{"p":"rl","s":"f","x":4.51,"y":0.73},{"p":"rl","s":"f","x":4.59,"y":0.35},{"p":"rl","s":"f","x":4.68,"y":0.56},{"p":"rl","s":"f","x":4.77,"y":0.24},{"p":"rl","s":"f","x":4.85,"y":0.46},{"p":"rl","s":"f","x":4.94,"y":0.62},{"p":"rl","s":"f","x":5.03,"y":0.24},{"p":"rl","s":"f","x":5.12,"y":0.48},{"p":"rl","s":"f","x":5.2,"y":0.24},{"p":"rl","s":"f","x":5.29,"y":0.48},{"p":"rl","s":"f","x":5.38,"y":0.18},{"p":"rl","s":"f","x":5.47,"y":0.46},{"p":"rl","s":"f","x":5.55,"y":0.18},{"p":"rl","s":"f","x":5.64,"y":0.44},{"p":"rl","s":"f","x":5.73,"y":0.18},{"p":"rl","s":"f","x":5.82,"y":0.35}
  ]},
  "vconcat": [
    {
      "title": {"text": "FeNiOH Complex Fe-Edge Solid State Fit", "anchor": "start", "dx": 226, "offset": 5},
      "spacing": 20,
      "hconcat": [
        {
          "width": 584, "height": 436,
          "layer": [
            {
              "transform": [{"filter": "datum.p === 'ks' && datum.s === 'd'"}],
              "mark": {"type": "line", "color": "#1b2350", "strokeWidth": 1.7},
              "encoding": {
                "x": {"field": "x", "type": "quantitative", "scale": {"domain": [2.05, 14.0], "nice": false, "zero": false},
                  "axis": {"orient": "bottom", "values": [3,4,5,6,7,8,9,10,11,12,13], "tickSize": {"condition": {"test": "datum.value % 2 === 0", "value": -12}, "value": -7}, "labelExpr": "datum.value % 2 === 0 ? datum.label : ''", "title": "k (A⁻¹)", "titleX": 270, "titlePadding": 13}},
                "y": {"field": "y", "type": "quantitative", "scale": {"domain": [-5.35, 6.7], "nice": false, "zero": false},
                  "axis": {"orient": "left", "values": [-5,-4,-3,-2,-1,0,1,2,3,4,5,6], "tickSize": {"condition": {"test": "datum.value % 2 === 0", "value": -12}, "value": -7}, "labelExpr": "datum.value % 2 === 0 ? datum.label : ''", "title": "χ(k) x k³", "titlePadding": 4}}
              }
            },
            {
              "transform": [{"filter": "datum.p === 'ks' && datum.s === 'f'"}],
              "mark": {"type": "line", "color": "#e8222a", "strokeWidth": 1.7},
              "encoding": {
                "x": {"field": "x", "type": "quantitative", "axis": {"orient": "top", "values": [3,4,5,6,7,8,9,10,11,12,13], "tickSize": {"condition": {"test": "datum.value % 2 === 0", "value": -12}, "value": -7}, "labels": false, "title": null}},
                "y": {"field": "y", "type": "quantitative", "axis": {"orient": "right", "values": [-5,-4,-3,-2,-1,0,1,2,3,4,5,6], "tickSize": {"condition": {"test": "datum.value % 2 === 0", "value": -12}, "value": -7}, "labels": false, "title": null}}
              }
            }
          ],
          "resolve": {"axis": {"x": "independent", "y": "independent"}}
        },
        {
          "width": 284, "height": 436,
          "layer": [
            {
              "transform": [{"filter": "datum.p === 'rs' && datum.s === 'd'"}],
              "mark": {"type": "line", "color": "#1b2350", "strokeWidth": 1.7},
              "encoding": {
                "x": {"field": "x", "type": "quantitative", "scale": {"domain": [1, 6], "nice": false, "zero": false},
                  "axis": {"orient": "bottom", "values": [1,2,3,4,5], "tickSize": -12, "title": "R+Δ\u00a0\u00a0(A)", "titleX": 113, "titlePadding": 13}},
                "y": {"field": "y", "type": "quantitative", "scale": {"domain": [0.06, 12.45], "nice": false, "zero": false},
                  "axis": {"orient": "left", "values": [1,2,3,4,5,6,7,8,9,10,11,12], "tickSize": {"condition": {"test": "datum.value % 2 === 0", "value": -12}, "value": -7}, "labels": false, "title": null}}
              }
            },
            {
              "transform": [{"filter": "datum.p === 'rs' && datum.s === 'f'"}],
              "mark": {"type": "line", "color": "#e8222a", "strokeWidth": 1.7},
              "encoding": {
                "x": {"field": "x", "type": "quantitative", "axis": {"orient": "top", "values": [2,3,4,5], "tickSize": -12, "labels": false, "title": null}},
                "y": {"field": "y", "type": "quantitative", "axis": {"orient": "right", "values": [1,2,3,4,5,6,7,8,9,10,11,12], "tickSize": {"condition": {"test": "datum.value % 2 === 0", "value": -12}, "value": -7}, "labels": false, "title": null}}
              }
            }
          ],
          "resolve": {"axis": {"x": "independent", "y": "independent"}}
        }
      ]
    },
    {
      "title": {"text": "FeNiOH Complex Fe-Edge Solution State EXAFS Fit", "anchor": "start", "dx": 231, "offset": 15},
      "spacing": 28,
      "hconcat": [
        {
          "width": 586, "height": 437,
          "layer": [
            {
              "transform": [{"filter": "datum.p === 'kl' && datum.s === 'd'"}],
              "mark": {"type": "line", "color": "#1b2350", "strokeWidth": 1.7},
              "encoding": {
                "x": {"field": "x", "type": "quantitative", "scale": {"domain": [1.05, 14.0], "nice": false, "zero": false},
                  "axis": {"orient": "bottom", "values": [2,3,4,5,6,7,8,9,10,11,12,13], "tickSize": {"condition": {"test": "datum.value % 2 === 0", "value": -12}, "value": -7}, "labelExpr": "datum.value % 2 === 0 ? datum.label : ''", "title": "k (A⁻¹)", "titleX": 270, "titlePadding": 13}},
                "y": {"field": "y", "type": "quantitative", "scale": {"domain": [-7.45, 8.35], "nice": false, "zero": false},
                  "axis": {"orient": "left", "values": [-7,-6,-5,-4,-3,-2,-1,0,1,2,3,4,5,6,7,8], "tickSize": {"condition": {"test": "datum.value % 2 === 0", "value": -12}, "value": -7}, "labelExpr": "datum.value % 2 === 0 ? datum.label : ''", "title": "χ(k) x k³", "titlePadding": 4}}
              }
            },
            {
              "transform": [{"filter": "datum.p === 'kl' && datum.s === 'f'"}],
              "mark": {"type": "line", "color": "#e8222a", "strokeWidth": 1.7},
              "encoding": {
                "x": {"field": "x", "type": "quantitative", "axis": {"orient": "top", "values": [2,3,4,5,6,7,8,9,10,11,12,13], "tickSize": {"condition": {"test": "datum.value % 2 === 0", "value": -12}, "value": -7}, "labels": false, "title": null}},
                "y": {"field": "y", "type": "quantitative", "axis": {"orient": "right", "values": [-7,-6,-5,-4,-3,-2,-1,0,1,2,3,4,5,6,7,8], "tickSize": {"condition": {"test": "datum.value % 2 === 0", "value": -12}, "value": -7}, "labels": false, "title": null}}
              }
            }
          ],
          "resolve": {"axis": {"x": "independent", "y": "independent"}}
        },
        {
          "width": 275, "height": 437,
          "layer": [
            {
              "transform": [{"filter": "datum.p === 'rl' && datum.s === 'd'"}],
              "mark": {"type": "line", "color": "#1b2350", "strokeWidth": 1.7},
              "encoding": {
                "x": {"field": "x", "type": "quantitative", "scale": {"domain": [1, 5.82], "nice": false, "zero": false},
                  "axis": {"orient": "bottom", "values": [1,2,3,4,5], "tickSize": -12, "title": "R+Δ\u00a0\u00a0(A)", "titleX": 114, "titlePadding": 13}},
                "y": {"field": "y", "type": "quantitative", "scale": {"domain": [0.15, 13.71], "nice": false, "zero": false},
                  "axis": {"orient": "left", "values": [1,2,3,4,5,6,7,8,9,10,11,12,13], "tickSize": {"condition": {"test": "datum.value % 2 === 0", "value": -12}, "value": -7}, "labels": false, "title": null}}
              }
            },
            {
              "transform": [{"filter": "datum.p === 'rl' && datum.s === 'f'"}],
              "mark": {"type": "line", "color": "#e8222a", "strokeWidth": 1.7},
              "encoding": {
                "x": {"field": "x", "type": "quantitative", "axis": {"orient": "top", "values": [2,3,4,5], "tickSize": -12, "labels": false, "title": null}},
                "y": {"field": "y", "type": "quantitative", "axis": {"orient": "right", "values": [1,2,3,4,5,6,7,8,9,10,11,12,13], "tickSize": {"condition": {"test": "datum.value % 2 === 0", "value": -12}, "value": -7}, "labels": false, "title": null}}
              }
            }
          ],
          "resolve": {"axis": {"x": "independent", "y": "independent"}}
        }
      ]
    }
  ],
  "spacing": 24
}
